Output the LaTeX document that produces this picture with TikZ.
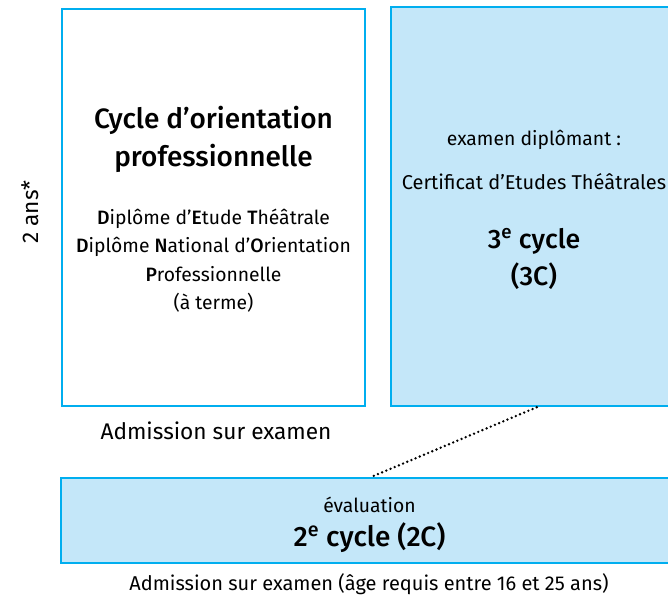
\documentclass[tikz,border=0pt]{standalone}
\usepackage{fontspec}
\setmainfont{Fira Sans}[BoldFont={Fira Sans Medium}]
\usepackage{tikz}
\usetikzlibrary{positioning}

\definecolor{cyanline}{RGB}{0,174,239}
\definecolor{cyanfill}{RGB}{196,231,249}

\tikzset{
  cadre/.style={draw=cyanline, line width=1pt, fill=white, inner sep=0pt},
  cadreplein/.style={draw=cyanline, line width=1.9pt, fill=cyanfill, inner sep=0pt},
  texte/.style={inner sep=0.75pt, align=center, font=\fontsize{14.5}{21.4}\selectfont},
  titre/.style={inner sep=0.75pt, align=center, font=\fontsize{21}{28.5}\selectfont\bfseries},
  legende/.style={inner sep=0.75pt, align=center, font=\fontsize{15.5}{20}\selectfont}
}

\begin{document}
\begin{tikzpicture}[x=0.75pt,y=0.75pt,yscale=-1]
\useasboundingbox (0,0) rectangle (668,598);
\clip (0,0) rectangle (668,598);

% Boxes
\node [cadre, minimum width=227.25pt, minimum height=297.75pt] (cop) at (213.5,207.5) {};
\node [cadreplein, minimum width=214.5pt, minimum height=299.25pt] (cycle3) at (534,206.5) {};
\node [cadreplein, minimum width=462pt, minimum height=63.75pt] (cycle2) at (369,520.5) {};

% Dotted link
\coordinate (lienA) at ([xshift=110.25pt]cycle3.south west);
\coordinate (lienB) at ([xshift=234pt]cycle2.north west);
\draw [line width=2pt, line cap=round, dash pattern=on 0pt off 3.4pt] (lienA) -- (lienB);

% Text Node
\node [titre] (coptitre) at (213.5,139) {Cycle d’orientation\\professionnelle};
% Text Node
\node [texte] (copdipl) at (213.5,260.5) {\textbf{D}iplôme d’\textbf{E}tude \textbf{T}héâtrale\\\textbf{D}iplôme \textbf{N}ational d’\textbf{O}rientation\\\textbf{P}rofessionnelle\\(à terme)};
% Text Node
\node [legende, font=\fontsize{17}{20}\selectfont] (copadm) at (216,431) {Admission sur examen};
% Text Node
\node [legende, rotate=90, font=\fontsize{17}{20}\selectfont] (duree) at (30,212) {2 ans*};

% Text Node
\node [texte] (examen) at (534,140) {examen diplômant :};
% Text Node
\node [texte, font=\fontsize{15}{20}\selectfont] (cet) at (534,182) {Certificat d’Etudes Théâtrales};
% Text Node
\node [titre, font=\fontsize{20}{27.75}\selectfont\bfseries] (c3titre) at (534,258.5) {3\textsuperscript{e} cycle\\(3C)};

% Text Node
\node [texte] (evaluation) at (369.5,505) {évaluation};
% Text Node
\node [titre] (c2titre) at (369.5,538) {2\textsuperscript{e} cycle (2C)};
% Text Node
\node [legende, font=\fontsize{15}{20}\selectfont] (c2adm) at (369,584) {Admission sur examen (âge requis entre 16 et 25 ans)};

\end{tikzpicture}
\end{document}
